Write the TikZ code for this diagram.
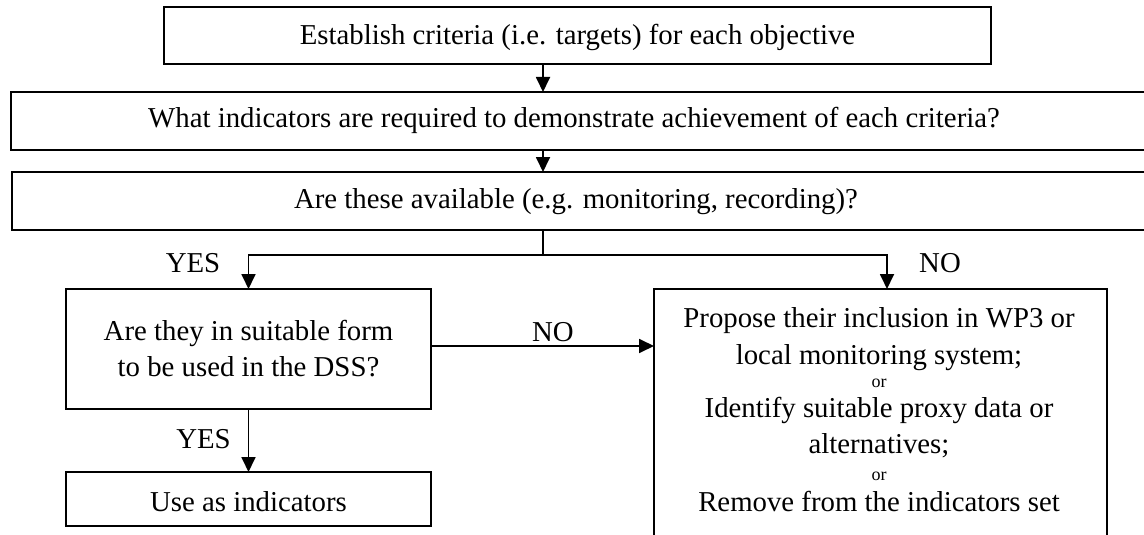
\documentclass[tikz,border=0pt]{standalone}
\usepackage{fontspec}
\setmainfont{Liberation Serif}
\usetikzlibrary{arrows.meta}
\tikzset{
  frame/.style={draw, line width=1.8pt, inner sep=0pt, outer sep=0pt},
  txt/.style={inner sep=0pt, outer sep=0pt, anchor=base, font=\fontsize{28.8}{34}\selectfont},
  smalltxt/.style={inner sep=0pt, outer sep=0pt, anchor=base, font=\fontsize{18}{21}\selectfont},
  link/.style={line width=1.8pt},
  arr/.style={link, -{Triangle[length=15pt,width=14pt]}},
}
\begin{document}
\begin{tikzpicture}[x=1pt,y=-1pt]
\useasboundingbox (0,0) rectangle (1144,535);

% boxes
\node[frame, minimum width=827pt, minimum height=57pt] (q1) at (577.5,35.5) {};
\node[frame, minimum width=1145pt, minimum height=58pt] (q2) at (583.5,121) {};
\node[frame, minimum width=1144pt, minimum height=58pt] (q3) at (584,201) {};
\node[frame, minimum width=365pt, minimum height=120pt] (q4) at (248.5,349) {};
\node[frame, minimum width=365pt, minimum height=54pt] (use) at (248.5,499) {};
\node[frame, minimum width=453pt, minimum height=271pt] (act) at (880.5,424.5) {};

% box texts
\node[txt] (q1t) at (577.5,45) {Establish criteria (i.e. targets) for each objective};
\node[txt] (q2t) at (574,128) {What indicators are required to demonstrate achievement of each criteria?};
\node[txt] (q3t) at (576,208) {Are these available (e.g. monitoring, recording)?};
\node[txt] (q4a) at (248.5,340) {Are they in suitable form};
\node[txt] (q4b) at (248.5,376) {to be used in the DSS?};
\node[txt] (uset) at (248.5,511) {Use as indicators};
\node[txt] (act1) at (879,327) {Propose their inclusion in WP3 or};
\node[txt] (act2) at (879,364) {local monitoring system;};
\node[smalltxt] (or1) at (879,387) {or};
\node[txt] (act3) at (879,417) {Identify suitable proxy data or};
\node[txt] (act4) at (879,453) {alternatives;};
\node[smalltxt] (or2) at (879,480) {or};
\node[txt] (act5) at (879,511) {Remove from the indicators set};

% connectors
\coordinate (spine) at (543,0);
\coordinate (fork) at (543,255);
\coordinate (nodrop) at (887,0);
\draw[arr] (q1.south -| spine) -- (q2.north -| spine);
\draw[arr] (q2.south -| spine) -- (q3.north -| spine);
\draw[link] (q3.south -| spine) -- (fork);
\draw[arr] (fork) -| (q4.north);
\draw[arr] (fork) -| (act.north -| nodrop);
\draw[arr] ([yshift=3pt]q4.east) -- ([yshift=3pt]q4.east -| act.west);
\draw[arr] (q4.south) -- (use.north);

% branch labels
\node[txt] (yes1) at (193,272.5) {YES};
\node[txt] (no1) at (940,272) {NO};
\node[txt] (no2) at (553,341) {NO};
\node[txt] (yes2) at (203.5,448) {YES};
\end{tikzpicture}
\end{document}
